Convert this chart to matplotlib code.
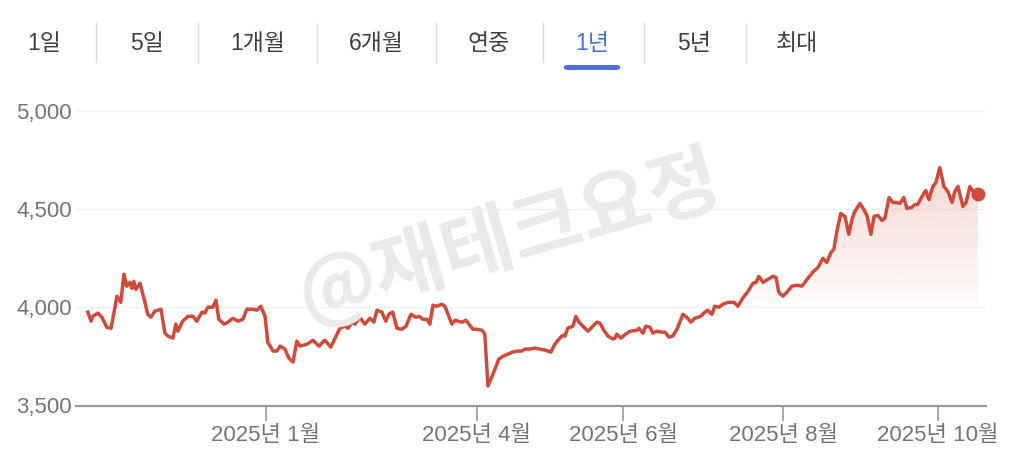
import numpy as np
import matplotlib
matplotlib.use("Agg")
import matplotlib.pyplot as plt
from matplotlib.path import Path
from matplotlib.patches import FancyBboxPatch
from matplotlib.lines import Line2D
from matplotlib.colors import to_rgb

plt.rcParams['font.family'] = ['Liberation Sans', 'Noto Sans CJK KR', 'DejaVu Sans']

# trading session index and price
session = [0.0, 0.9, 1.4, 2.9, 4.0, 5.4, 6.6, 7.1, 8.3, 9.4, 10.3, 11.1, 12.0, 12.6, 13.1, 13.7,
           14.9, 16.3, 17.1, 18.0, 19.1, 20.9, 22.0, 22.9, 24.3, 25.1, 25.7, 27.1, 28.6, 30.0,
           31.1, 32.6, 33.4, 34.3, 35.7, 36.6, 37.4, 38.9, 40.0, 41.4, 42.9, 44.3, 45.4, 47.1,
           48.3, 49.4, 50.6, 51.4, 52.9, 54.0, 54.9, 56.3, 57.4, 58.6, 59.7, 60.6, 62.6, 64.3,
           66.0, 67.7, 69.4, 72.0, 73.4, 74.3, 75.4, 76.3, 77.7, 79.1, 80.6, 81.7, 82.6, 84.0,
           85.1, 86.0, 87.1, 88.3, 89.7, 90.9, 92.3, 93.7, 94.6, 95.7, 96.9, 97.7, 98.6, 99.7,
           101.1, 102.0, 102.9, 104.0, 104.9, 105.7, 106.9, 108.0, 109.1, 110.0, 111.1, 112.6,
           113.4, 114.3, 115.4, 116.3, 117.4, 118.6, 120.0, 121.4, 122.6, 124.0, 124.9, 126.3,
           127.7, 129.1, 130.6, 132.3, 133.4, 134.6, 135.7, 136.3, 137.1, 138.6, 139.4, 140.3,
           141.4, 142.9, 144.3, 145.4, 146.3, 147.4, 148.6, 150.0, 150.6, 151.1, 152.3, 153.4,
           154.9, 156.9, 157.4, 158.6, 159.4, 160.6, 161.4, 162.6, 164.0, 164.9, 166.0, 167.1,
           168.3, 170.0, 171.1, 172.3, 173.4, 175.1, 176.3, 177.1, 178.3, 179.1, 180.3, 181.4,
           182.9, 184.6, 185.7, 187.1, 188.6, 190.0, 190.9, 191.7, 192.9, 194.3, 195.7, 196.6,
           197.4, 198.6, 199.7, 201.1, 202.6, 204.0, 205.4, 207.1, 208.6, 210.0, 211.1, 212.3,
           213.1, 214.0, 215.1, 216.3, 217.4, 218.3, 219.1, 220.6, 221.7, 222.6, 223.7, 224.6,
           225.7, 226.9, 227.7, 228.9, 230.0, 231.1, 232.0, 233.1, 234.0, 235.4, 236.3, 237.1,
           238.3, 239.4, 240.3, 241.4, 242.3, 243.4, 244.6, 245.7, 246.9, 247.7, 248.6, 250.0,
           250.9, 252.0, 252.9, 254.3]
price = [3975, 3929, 3954, 3970, 3949, 3898, 3893, 3939, 4056, 4025, 4168, 4107, 4127, 4096, 4132, 4091,
         4122, 4025, 3964, 3949, 3980, 3990, 3868, 3853, 3843, 3914, 3878, 3929, 3954, 3954,
         3929, 3975, 3970, 4000, 4000, 4036, 3939, 3914, 3924, 3944, 3929, 3939, 3990, 3990,
         3985, 4005, 3954, 3822, 3777, 3777, 3802, 3787, 3741, 3721, 3827, 3802, 3812, 3832,
         3802, 3832, 3797, 3893, 3904, 3893, 3924, 3914, 3949, 3914, 3944, 3924, 3985, 3975,
         3929, 3964, 3975, 3893, 3888, 3904, 3964, 3949, 3954, 3939, 3939, 3914, 4010, 4005,
         4015, 4005, 3964, 3914, 3934, 3929, 3924, 3934, 3909, 3888, 3888, 3883,
         3863, 3599, 3645, 3685, 3736, 3751, 3761, 3772, 3777, 3777, 3787, 3787,
         3792, 3787, 3782, 3772, 3812, 3838, 3858, 3853, 3893, 3904, 3954, 3924,
         3904, 3878, 3904, 3924, 3919, 3883, 3853, 3838, 3843, 3863, 3843, 3860,
         3878, 3883, 3893, 3868, 3904, 3898, 3868, 3878, 3873, 3873, 3848, 3853,
         3888, 3964, 3949, 3924, 3944, 3954, 3975, 3985, 3964, 4005, 4000, 4015,
         4025, 4025, 4005, 4046, 4081, 4122, 4127, 4157, 4127, 4142, 4157, 4152,
         4076, 4056, 4076, 4107, 4112, 4107, 4140, 4178, 4203, 4249, 4228, 4279,
         4294, 4386, 4477, 4462, 4371, 4447, 4487, 4528, 4497, 4467, 4371, 4462,
         4467, 4442, 4452, 4558, 4533, 4533, 4528, 4558, 4503, 4508, 4523, 4523,
         4563, 4594, 4548, 4614, 4635, 4711, 4614, 4589, 4533, 4589, 4614, 4513,
         4533, 4614, 4589, 4574]

tick_pos = [50.9, 111.1, 152.9, 198.7, 242.9]
tick_labels = ['2025년 1월', '2025년 4월', '2025년 6월', '2025년 8월', '2025년 10월']
y_ticks = [3500, 4000, 4500, 5000]
base = 4000

tabs = ['1일', '5일', '1개월', '6개월', '연중', '1년', '5년', '최대']
tab_x = [44, 147, 258, 376, 489, 592, 694, 797]
sep_x = [96, 198, 317, 436, 543, 644, 746]
selected = '1년'

red = '#d04a3b'
blue = '#4a6ee0'
gray = '#70757a'

W, H = 1024, 471
fig = plt.figure(figsize=(W / 100, H / 100), dpi=100)
ax = fig.add_axes([76 / W, 1 - 405.5 / H, 910 / W, (405.5 - 110.7) / H])

x = np.array(session)
y = np.array(price, dtype=float)

# gradient fill above the base line
fill = ax.fill_between(x, y, base, where=y >= base, interpolate=True, color='none', lw=0)
clip = Path.make_compound_path(*fill.get_paths())
g = np.linspace(0, 1, 256).reshape(-1, 1)
rgba = np.zeros((256, 1, 4))
rgba[..., :3] = to_rgb(red)
rgba[..., 3] = 0.02 + 0.2 * g
img = ax.imshow(rgba, extent=[x[0], x[-1], base, y.max()], origin='lower',
                aspect='auto', zorder=1, interpolation='bilinear')
img.set_clip_path(clip, transform=ax.transData)

ax.plot(x, y, color=red, lw=2.5, zorder=4, solid_joinstyle='round')
ax.plot(x[-1], y[-1], 'o', color=red, ms=9, zorder=5)

ax.set_xlim(-3.4, 256.6)
ax.set_ylim(3500, 5000)

for v in y_ticks[1:]:
    ax.axhline(v, color='#f0f0f0', lw=1, zorder=0)

for s in ['top', 'right', 'left']:
    ax.spines[s].set_visible(False)
ax.spines['bottom'].set_color('#9a9a9a')
ax.spines['bottom'].set_linewidth(1.6)

ax.set_yticks(y_ticks, [f'{v:,}' for v in y_ticks])
ax.set_xticks(tick_pos, tick_labels)
ax.tick_params(axis='y', length=0, pad=3, labelsize=16, labelcolor=gray)
ax.tick_params(axis='x', length=11, width=1.2, color='#9a9a9a', pad=3,
               labelsize=16, labelcolor=gray)

# watermark
fig.text(510 / W, 1 - 238 / H, '@재테크요정', fontsize=56, color='#eaeaea',
         rotation=16, ha='center', va='center', fontweight='bold',
         family=['Noto Sans CJK KR', 'DejaVu Sans'], zorder=3)

# range tabs
for lab, tx in zip(tabs, tab_x):
    fig.text(tx / W, 1 - 43 / H, lab, fontsize=16.5, ha='center', va='center',
             color=blue if lab == selected else '#3c4043')
for sx in sep_x:
    fig.add_artist(Line2D([sx / W, sx / W], [1 - 23 / H, 1 - 62 / H], color='#dadce0', lw=1))
fig.add_artist(FancyBboxPatch((564 / W, 1 - 70 / H), 56 / W, 5 / H,
                              boxstyle='round,pad=0,rounding_size=0.004',
                              transform=fig.transFigure, color=blue, lw=0))

fig.savefig('out.png', dpi=100, facecolor='white')
